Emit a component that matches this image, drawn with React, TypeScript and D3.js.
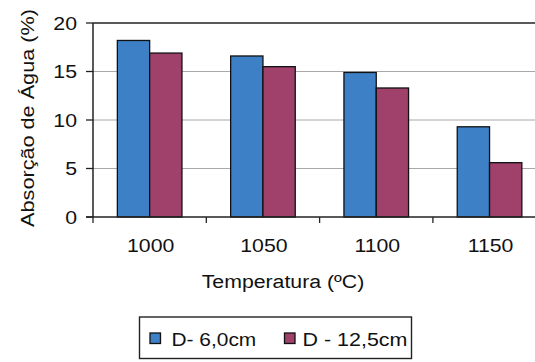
import React from "react";
import * as d3 from "d3";

const categories = ["1000", "1050", "1100", "1150"];
const seriesNames = ["D- 6,0cm", "D - 12,5cm"];
const seriesA = [18.2, 16.6, 14.9, 9.3];
const seriesB = [16.9, 15.5, 13.3, 5.6];
const yTicks = [0, 5, 10, 15, 20];
const colors = ["#3d80c6", "#a0416c"];

export default function App() {
  const W = 535, H = 362;
  const left = 93, top = 23, bottom = 217;
  const band = 113.3;
  const right = left + band * categories.length;
  const x = d3.scaleBand<string>().domain(categories).range([left, right]).paddingInner(0).paddingOuter(0);
  const inner = d3.scaleBand<number>().domain([0, 1]).range([0, 64.6]);
  const y = d3.scaleLinear().domain([0, 20]).range([bottom, top]);
  const series = [seriesA, seriesB];
  const font = "'Liberation Sans', Arial, sans-serif";
  const sx = 1.12;
  return (
    <svg width={W} height={H} style={{ position: "absolute", left: 0, top: 0, background: "#fff" }} fontFamily={font}>
      <rect x={0} y={0} width={W} height={H} fill="#fff" />
      {yTicks.filter(t => t > 0 && t < 20).map(t => (
        <line key={"g" + t} x1={left} x2={right} y1={y(t)} y2={y(t)} stroke="#a8a8a8" strokeWidth={1} />
      ))}
      <line x1={left} x2={right} y1={y(20)} y2={y(20)} stroke="#222" strokeWidth={1.5} />
      {series.map((s, si) =>
        s.map((v, i) => {
          const bx = (x(categories[i]) as number) + (band - 64.6) / 2 + (inner(si) as number);
          return (
            <rect key={si + "-" + i} x={bx} y={y(v)} width={inner.bandwidth()} height={bottom - y(v)}
              fill={colors[si]} stroke="#111" strokeWidth={1.3} />
          );
        })
      )}
      <line x1={left} x2={left} y1={top} y2={bottom} stroke="#222" strokeWidth={1.5} />
      <line x1={left - 7} x2={right} y1={bottom} y2={bottom} stroke="#222" strokeWidth={1.5} />
      {yTicks.map(t => (
        <g key={"t" + t}>
          <line x1={left - 7} x2={left} y1={y(t)} y2={y(t)} stroke="#222" strokeWidth={1.3} />
          <text transform={`translate(77,${y(t)}) scale(${sx},1)`} dy="0.35em" textAnchor="end" fontSize={19} fill="#111">{t}</text>
        </g>
      ))}
      {categories.map((c, i) => (
        <g key={"c" + c}>
          <line x1={left + band * i} x2={left + band * i} y1={bottom} y2={bottom + 6} stroke="#222" strokeWidth={1.3} />
          <text transform={`translate(${(x(c) as number) + band / 2 + 1},252) scale(${sx},1)`} textAnchor="middle" fontSize={19} fill="#111">{c}</text>
        </g>
      ))}
      <text transform={`translate(283,288) scale(${sx},1)`} textAnchor="middle" fontSize={19} fill="#111">Temperatura (ºC)</text>
      <text transform={`translate(27,118) rotate(-90) scale(1.14,1)`} dy="0.35em" textAnchor="middle" fontSize={19} fill="#111">Absorção de Água (%)</text>
      <rect x={139.5} y={317} width={272} height={41.5} fill="#fff" stroke="#222" strokeWidth={1.4} />
      <rect x={150} y={333} width={10.5} height={10.5} fill={colors[0]} stroke="#111" strokeWidth={1.3} />
      <text transform={`translate(171.5,346) scale(1.1,1)`} fontSize={19} fill="#111">{seriesNames[0]}</text>
      <rect x={284.5} y={333} width={10.5} height={10.5} fill={colors[1]} stroke="#111" strokeWidth={1.3} />
      <text transform={`translate(302.5,346) scale(1.13,1)`} fontSize={19} fill="#111">{seriesNames[1]}</text>
    </svg>
  );
}
